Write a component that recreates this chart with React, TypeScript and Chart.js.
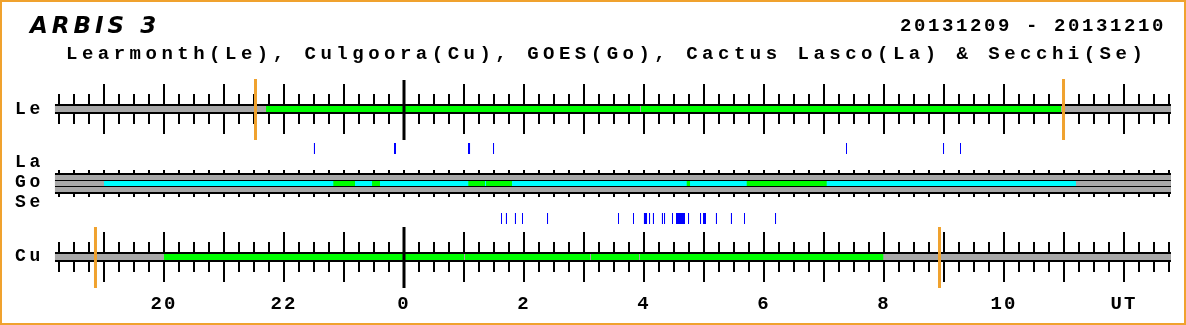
import React, { useEffect, useRef } from "react";
import { Chart, registerables } from "chart.js";

Chart.register(...registerables);

// ---------- texts ----------
const TITLE = "ARBIS 3";
const DATE_RANGE = "20131209 - 20131210";
const SUBTITLE = "Learmonth(Le), Culgoora(Cu), GOES(Go), Cactus Lasco(La) & Secchi(Se)";
const ROW_LABELS = ["Le", "La", "Go", "Se", "Cu"];

// ---------- data (hours relative to 00 UT, 2013-12-10) ----------
const OBS_WINDOW: [number, number] = [-5.817, 12.783];
const DAY_BOUNDARY = [0];

const LE_GREEN: [number, number][] = [[-2.3, 3.933], [3.95, 10.95]];
const LE_MARKERS = [-2.475, 10.992];

const CU_GREEN: [number, number][] = [[-4.0, 1.0], [1.017, 3.1], [3.117, 3.917], [3.933, 7.988]];
const CU_MARKERS = [-5.142, 8.925];

const GO_CYAN: [number, number][] = [[-5.0, 11.2]];
const GO_GREEN: [number, number][] = [
  [-1.178, -0.817], [-0.533, -0.4], [1.072, 1.35], [1.367, 1.8], [4.712, 4.767], [5.712, 7.045],
];

const LA_EVENTS = [-1.492, -0.158, -0.142, 1.075, 1.092, 1.492, 7.375, 8.992, 9.275];
const SE_EVENTS = [
  1.625, 1.708, 1.858, 1.975, 2.392, 3.575, 3.825, 4.008, 4.025, 4.042, 4.092, 4.158,
  4.308, 4.342, 4.475, 4.542, 4.558, 4.575, 4.592, 4.608, 4.625, 4.642, 4.658, 4.675,
  4.742, 4.942, 4.992, 5.008, 5.025, 5.208, 5.458, 5.675, 6.192,
];

const TICK_HOURS = [-4, -2, 0, 2, 4, 6, 8, 10, 12];
const TICK_LABELS = ["20", "22", "0", "2", "4", "6", "8", "10", "UT"];

// ---------- axis / layout settings ----------
const W = 1186;
const H = 325;
const ZERO_PX = 404;
const PX_PER_HOUR = 60;
const X_MIN = -ZERO_PX / PX_PER_HOUR;
const X_MAX = (W - ZERO_PX) / PX_PER_HOUR;
const MINOR_FIRST = -5.75;
const MINOR_LAST = 12.75;
const MINOR_STEP = 0.25;
const HOUR_FIRST = -5;
const HOUR_LAST = 12;

const LE_Y = 109;
const CU_Y = 257;
const GO_Y = 183.5;
const LA_BAND_Y = 177.5;
const SE_BAND_Y = 189.5;
const ROW_LABEL_BASELINES = [113.5, 166.5, 186.5, 206.5, 260.5];
const LABEL_AXIS_Y = 293;

const GRAY = "#a8a8a8";
const GREEN = "#00ff00";
const CYAN = "#00ffff";
const ORANGE = "#f0a22e";
const BLUE = "#0000ff";

function segs(ranges: [number, number][], y: number) {
  const out: any[] = [];
  ranges.forEach(([a, b]) => {
    out.push({ x: a, y }, { x: b, y }, { x: b, y: null });
  });
  return out;
}

function vlines(xs: number[], y1: number, y2: number) {
  const out: any[] = [];
  xs.forEach((x) => {
    out.push({ x, y: y1 }, { x, y: y2 }, { x, y: null });
  });
  return out;
}

function lineDs(data: any[], color: string, width: number, order: number) {
  return {
    type: "line" as const,
    data,
    borderColor: color,
    backgroundColor: color,
    borderWidth: width,
    borderCapStyle: "butt",
    pointRadius: 0,
    pointHoverRadius: 0,
    fill: false,
    tension: 0,
    spanGaps: false,
    order,
  };
}

function quarterTicks() {
  const t: any[] = [];
  for (let v = MINOR_FIRST; v <= MINOR_LAST + 1e-9; v += MINOR_STEP) t.push({ value: v });
  return t;
}
function hourTicks() {
  const t: any[] = [];
  for (let v = HOUR_FIRST; v <= HOUR_LAST; v += 1) t.push({ value: v });
  return t;
}

function tickAxis(yPos: number, len: number, kind: "minor" | "hour") {
  return {
    type: "linear",
    axis: "x",
    min: X_MIN,
    max: X_MAX,
    bounds: "data",
    position: { y: yPos },
    border: { display: false },
    grid: {
      display: true,
      drawOnChartArea: false,
      drawTicks: true,
      tickLength: len,
      lineWidth: 2,
      tickWidth: 2,
      color: "#000",
      tickColor: "#000",
    },
    ticks: { display: false },
    afterBuildTicks: (axis: any) => {
      axis.ticks = kind === "minor" ? quarterTicks() : hourTicks();
    },
  };
}

const textPlugin = {
  id: "arbisText",
  beforeDraw(chart: any) {
    chart.ctx.letterSpacing = "2px";
  },
  beforeDatasetsDraw(chart: any) {
    chart.ctx.letterSpacing = "0px";
  },
  afterDraw(chart: any) {
    const ctx = chart.ctx;
    ctx.save();
    ctx.fillStyle = "#000";
    ctx.textBaseline = "alphabetic";
    ctx.textAlign = "left";
    ctx.font = 'italic bold 23px "DejaVu Sans"';
    ctx.letterSpacing = "4px";
    ctx.fillText(TITLE, 30, 33);
    ctx.font = 'bold 19px "Liberation Mono"';
    ctx.letterSpacing = "2.6px";
    ctx.fillText(DATE_RANGE, 900, 31);
    ctx.letterSpacing = "4.5px";
    ctx.fillText(SUBTITLE, 66, 59);
    ctx.font = 'bold 18px "Liberation Mono"';
    ctx.letterSpacing = "3.6px";
    ROW_LABELS.forEach((t, i) => ctx.fillText(t, 15, ROW_LABEL_BASELINES[i]));
    ctx.letterSpacing = "0px";
    ctx.strokeStyle = ORANGE;
    ctx.lineWidth = 2;
    ctx.strokeRect(1, 1, chart.width - 2, chart.height - 2);
    ctx.restore();
  },
};

export default function App() {
  const ref = useRef<HTMLCanvasElement | null>(null);

  useEffect(() => {
    document.body.style.margin = "0";
    const canvas = ref.current;
    if (!canvas) return;

    const datasets: any[] = [
      // events
      lineDs(vlines(LA_EVENTS, 143, 154), BLUE, 1, 1),
      lineDs(vlines(SE_EVENTS, 213, 224), BLUE, 1, 1),
      // markers
      lineDs(vlines(LE_MARKERS, 79, 140), ORANGE, 3, 1),
      lineDs(vlines(CU_MARKERS, 227, 288), ORANGE, 3, 1),
      lineDs(vlines(DAY_BOUNDARY, 80, 140), "#000", 3, 2),
      lineDs(vlines(DAY_BOUNDARY, 227, 288), "#000", 3, 2),
      // green coverage
      lineDs(segs(LE_GREEN, LE_Y), GREEN, 6, 3),
      lineDs(segs(CU_GREEN, CU_Y), GREEN, 6, 3),
      lineDs(segs(GO_GREEN, GO_Y), GREEN, 5, 3),
      lineDs(segs(GO_CYAN, GO_Y), CYAN, 5, 4),
      // gray bands
      lineDs(segs([OBS_WINDOW], LE_Y), GRAY, 6, 5),
      lineDs(segs([OBS_WINDOW], CU_Y), GRAY, 6, 5),
      lineDs(segs([OBS_WINDOW], LA_BAND_Y), GRAY, 5, 5),
      lineDs(segs([OBS_WINDOW], GO_Y), GRAY, 5, 5),
      lineDs(segs([OBS_WINDOW], SE_BAND_Y), GRAY, 5, 5),
      // black frames
      lineDs(segs([OBS_WINDOW], LE_Y), "#000", 10, 6),
      lineDs(segs([OBS_WINDOW], CU_Y), "#000", 10, 6),
      lineDs(segs([OBS_WINDOW], GO_Y), "#000", 21, 6),
    ];

    const chart = new Chart(canvas, {
      type: "line",
      data: { datasets },
      options: {
        responsive: false,
        animation: false,
        events: [],
        layout: { padding: 0 },
        plugins: {
          legend: { display: false },
          tooltip: { enabled: false },
          title: { display: false },
        },
        scales: {
          x: {
            type: "linear",
            min: X_MIN,
            max: X_MAX,
            bounds: "data",
            position: { y: LABEL_AXIS_Y },
            border: { display: false },
            grid: { display: false, drawTicks: false },
            ticks: {
              display: true,
              autoSkip: false,
              maxRotation: 0,
              minRotation: 0,
              padding: 0,
              color: "#000",
              font: { family: "Liberation Mono", size: 19, weight: "bold" },
              callback: (_v: any, i: number) => TICK_LABELS[i],
            },
            afterBuildTicks: (axis: any) => {
              axis.ticks = TICK_HOURS.map((v) => ({ value: v }));
            },
          },
          y: {
            type: "linear",
            min: 0,
            max: H,
            bounds: "data",
            reverse: true,
            display: false,
          },
          xLeTopMinor: tickAxis(94, 10, "minor"),
          xLeTopHour: tickAxis(84, 20, "hour"),
          xLeBotMinor: tickAxis(114, 10, "minor"),
          xLeBotHour: tickAxis(114, 20, "hour"),
          xCuTopMinor: tickAxis(242, 10, "minor"),
          xCuTopHour: tickAxis(232, 20, "hour"),
          xCuBotMinor: tickAxis(262, 10, "minor"),
          xCuBotHour: tickAxis(262, 20, "hour"),
          xGoTop: tickAxis(170, 3, "minor"),
          xGoBot: tickAxis(194, 3, "minor"),
        } as any,
      },
      plugins: [textPlugin],
    } as any);

    return () => chart.destroy();
  }, []);

  return (
    <div style={{ width: W, height: H, background: "#fff" }}>
      <canvas ref={ref} width={W} height={H} style={{ display: "block" }} />
    </div>
  );
}
